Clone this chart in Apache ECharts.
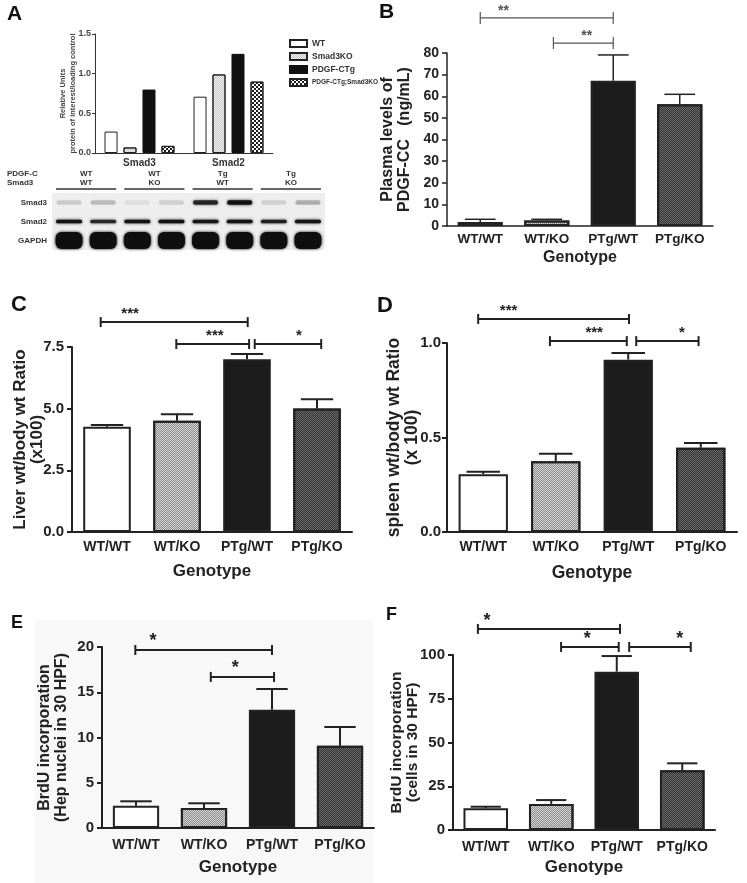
<!DOCTYPE html>
<html><head><meta charset="utf-8">
<script src="https://cdn.jsdelivr.net/npm/echarts@6/dist/echarts.min.js"></script>
<style>html,body{margin:0;padding:0;background:#fff}#c{width:747px;height:883px}</style>
</head><body><div id="c"></div>
<script>
// ================= DATA =================
const genotypes = ['WT/WT', 'WT/KO', 'PTg/WT', 'PTg/KO'];

// Panel A – densitometry
const aCategories = ['Smad3', 'Smad2'];
const aGroupNames = ['WT', 'Smad3KO', 'PDGF-CTg', 'PDGF-CTg;Smad3KO'];
const aWT = [0.27, 0.71];
const aSmad3KO = [0.07, 0.99];
const aPDGFCTg = [0.80, 1.25];
const aPDGFCTgSmad3KO = [0.09, 0.90];
const aTicks = [0, 0.5, 1.0, 1.5];

// Panel A – western blot (relative band intensity per lane)
const blotLanes = ['1', '2', '3', '4', '5', '6', '7', '8'];
const blotRows = ['Smad3', 'Smad2', 'GAPDH'];
const blotGroupPDGFC = ['WT', 'WT', 'Tg', 'Tg'];
const blotGroupSmad3 = ['WT', 'KO', 'WT', 'KO'];
const blotSmad3 = [0.14, 0.2, 0.07, 0.12, 0.8, 0.95, 0.12, 0.25];
const blotSmad2 = [0.95, 0.8, 0.95, 0.95, 0.92, 0.95, 0.85, 0.95];
const blotGAPDH = [1, 1, 1, 1, 1, 1, 1, 1];

// Panel B – plasma PDGF-CC (ng/mL)
const bMean = [1.9, 2.5, 67.2, 56.3];
const bSem = [1.2, 0.6, 11.9, 4.6];
const bTicks = [0, 10, 20, 30, 40, 50, 60, 70, 80];
const bBrackets = [[0, 2.0, 96.2, 0.35], [1.1, 2.0, 84.6, 1.6]];
const bStars = ['**', '**'];

// Panel C – liver wt / body wt (x100)
const cMean = [4.27, 4.51, 7.0, 5.01];
const cSem = [0.07, 0.26, 0.22, 0.37];
const cTicks = [0, 2.5, 5.0, 7.5];
const cBrackets = [[-0.09, 2.01, 8.51, 0.33], [0.99, 2.03, 7.62, 1.54], [2.11, 3.06, 7.62, 2.74]];
const cStars = ['***', '***', '*'];

// Panel D – spleen wt / body wt (x 100)
const dMean = [0.305, 0.374, 0.912, 0.446];
const dSem = [0.014, 0.04, 0.035, 0.025];
const dTicks = [0, 0.5, 1.0];
const dBrackets = [[-0.07, 2.01, 1.127, 0.35], [0.92, 1.98, 1.01, 1.53], [2.11, 2.97, 1.01, 2.74]];
const dStars = ['***', '***', '*'];

// Panel E – BrdU (Hep nuclei in 30 HPF)
const eMean = [2.47, 2.21, 13.07, 9.1];
const eSem = [0.48, 0.52, 2.29, 2.06];
const eTicks = [0, 5, 10, 15, 20];
const eBrackets = [[-0.01, 2.0, 19.67, 0.25], [1.1, 2.03, 16.69, 1.46]];
const eStars = ['*', '*'];

// Panel F – BrdU (cells in 30 HPF)
const fMean = [12.4, 14.9, 90.5, 34.1];
const fSem = [0.9, 2.2, 8.9, 4.0];
const fTicks = [0, 25, 50, 75, 100];
const fBrackets = [[-0.12, 2.05, 114.9, 0.02], [1.15, 2.03, 104.6, 1.55], [2.19, 3.13, 104.6, 2.96]];
const fStars = ['*', '*', '*'];

// ================= STYLE =================
const FONT = '"Liberation Sans", Arial, Helvetica, sans-serif';
const INK = '#222';
function checker(color, s) {
  return { symbol: 'rect', symbolSize: 1, dashArrayX: [[s, s], [0, s, s, 0]], dashArrayY: [s, 0], color: color };
}
const genoStyles = [
  { color: '#ffffff', borderColor: INK, borderWidth: 2 },
  { color: '#d6d6d6', borderColor: INK, borderWidth: 2, decal: checker('rgba(0,0,0,0.35)', 1) },
  { color: '#1c1c1c', borderColor: INK, borderWidth: 2 },
  { color: '#6e6e6e', borderColor: INK, borderWidth: 2, decal: checker('rgba(0,0,0,0.55)', 1) }
];
const aStyles = [
  { color: '#ffffff', borderColor: '#222', borderWidth: 1 },
  { color: '#f2f2f2', borderColor: '#222', borderWidth: 1, decal: checker('rgba(0,0,0,0.18)', 1) },
  { color: '#111111', borderColor: '#111', borderWidth: 1 },
  { color: '#ffffff', borderColor: '#222', borderWidth: 1, decal: checker('#1a1a1a', 2) }
];

const grids = [
  { left: 95, top: 34, width: 178, height: 119 },                     // 0 A chart
  { left: 52, top: 193, width: 273, height: 57, show: true, backgroundColor: '#eeeeee', borderWidth: 0 }, // 1 blot
  { left: 447, top: 53, width: 266, height: 173 },                    // 2 B
  { left: 72, top: 347, width: 280, height: 185 },                    // 3 C
  { left: 447, top: 343, width: 290, height: 189 },                   // 4 D
  { left: 102, top: 647, width: 272, height: 181 },                   // 5 E
  { left: 453, top: 655, width: 262, height: 175 }                    // 6 F
];

function mainX(g, opt) {
  return {
    type: 'category', gridIndex: g, data: genotypes,
    name: 'Genotype', nameLocation: 'middle', nameGap: opt.nameGap, nameMoveOverlap: false,
    nameTextStyle: { fontSize: opt.nameSize || 17, fontWeight: 'bold', color: INK, fontFamily: FONT },
    axisLine: { lineStyle: { color: INK, width: opt.lw || 2 } },
    axisTick: { alignWithLabel: true, interval: 0, length: 5, lineStyle: { color: INK, width: opt.lw || 2 } },
    axisLabel: { interval: 0, hideOverlap: false, fontSize: opt.labelSize || 14, fontWeight: 'bold', color: INK, margin: opt.margin, fontFamily: FONT }
  };
}
function mainY(g, ticks, opt) {
  return {
    type: 'value', gridIndex: g, min: ticks[0], max: ticks[ticks.length - 1], interval: ticks[1] - ticks[0],
    name: opt.name, nameLocation: 'middle', nameRotate: 90, nameGap: opt.nameGap, nameMoveOverlap: false,
    nameTextStyle: { fontSize: opt.nameSize, fontWeight: 'bold', color: INK, lineHeight: opt.lh, fontFamily: FONT, align: 'center' },
    axisLine: { show: true, lineStyle: { color: INK, width: opt.lw || 2 } },
    axisTick: { show: true, length: 5, lineStyle: { color: INK, width: opt.lw || 2 } },
    axisLabel: { fontSize: opt.labelSize || 15, fontWeight: 'bold', color: INK, margin: opt.margin || 8, fontFamily: FONT,
      formatter: opt.fmt || (v => String(v)) },
    splitLine: { show: false }
  };
}

function barSeries(g, means) {
  return {
    type: 'bar', xAxisIndex: g, yAxisIndex: g, barWidth: '68%', z: 2,
    data: means.map((m, i) => ({ value: m, itemStyle: genoStyles[i] }))
  };
}
function errSeries(g, means, sems, lw) {
  return {
    type: 'custom', xAxisIndex: g, yAxisIndex: g, z: 4, clip: false, silent: true,
    data: means.map((m, i) => [i, m, m + sems[i]]),
    encode: { x: 0, y: [1, 2] },
    renderItem: (params, api) => {
      const i = api.value(0);
      const lo = api.coord([i, api.value(1)]);
      const hi = api.coord([i, api.value(2)]);
      const band = api.size([1, 0])[0];
      const hw = band * 0.68 * 0.34;
      const st = { stroke: INK, lineWidth: lw };
      return { type: 'group', children: [
        { type: 'line', shape: { x1: lo[0], y1: lo[1], x2: hi[0], y2: hi[1] }, style: st },
        { type: 'line', shape: { x1: hi[0] - hw, y1: hi[1], x2: hi[0] + hw, y2: hi[1] }, style: st }
      ] };
    }
  };
}
function bracketSeries(g, brackets, stars, opt) {
  return {
    type: 'custom', xAxisIndex: g, yAxisIndex: g, z: 5, clip: false, silent: true,
    data: brackets.map(b => b.slice()),
    encode: { x: 0, y: 2 },
    renderItem: (params, api) => {
      const base = api.coord([0, api.value(2)]);
      const band = api.size([1, 0])[0];
      const x1 = base[0] + api.value(0) * band;
      const x2 = base[0] + api.value(1) * band;
      const lx = base[0] + api.value(3) * band;
      const y = base[1];
      const st = { stroke: opt.color, lineWidth: opt.lw };
      return { type: 'group', children: [
        { type: 'line', shape: { x1: x1, y1: y, x2: x2, y2: y }, style: st },
        { type: 'line', shape: { x1: x1, y1: y - opt.cap, x2: x1, y2: y + opt.cap }, style: st },
        { type: 'line', shape: { x1: x2, y1: y - opt.cap, x2: x2, y2: y + opt.cap }, style: st },
        { type: 'text', x: lx, y: y - opt.dy, style: { text: stars[params.dataIndex], fill: opt.color,
          fontSize: opt.fs, fontWeight: 'bold', fontFamily: FONT, align: 'center', verticalAlign: 'middle' } }
      ] };
    }
  };
}

const fmt1 = v => v.toFixed(1);

const xAxes = [
  { type: 'category', gridIndex: 0, data: aCategories,
    axisLine: { lineStyle: { color: '#333', width: 1 } }, axisTick: { show: false },
    axisLabel: { fontSize: 10, fontWeight: 'bold', color: '#333', margin: 5, fontFamily: FONT } },
  { type: 'category', gridIndex: 1, data: blotLanes, show: false },
  mainX(2, { nameGap: 24, margin: 6, labelSize: 13.5, nameSize: 16, lw: 1.5 }),
  mainX(3, { nameGap: 31, margin: 8 }),
  mainX(4, { nameGap: 32, margin: 8, nameSize: 17.5 }),
  mainX(5, { nameGap: 31, margin: 10 }),
  mainX(6, { nameGap: 29, margin: 10 })
];
const yAxes = [
  { type: 'value', gridIndex: 0, min: aTicks[0], max: aTicks[aTicks.length - 1], interval: aTicks[1] - aTicks[0],
    name: 'Relative Units\nprotein of interest/loading control', nameLocation: 'middle', nameRotate: 90, nameGap: 17,
    nameMoveOverlap: false,
    nameTextStyle: { fontSize: 7.5, fontWeight: 'bold', color: '#444', lineHeight: 10, fontFamily: FONT },
    axisLine: { show: true, lineStyle: { color: '#333', width: 1 } },
    axisTick: { show: true, length: 3, lineStyle: { color: '#333', width: 1 } },
    axisLabel: { fontSize: 9, fontWeight: 'bold', color: '#444', margin: 4, fontFamily: FONT, formatter: fmt1 },
    splitLine: { show: false } },
  { type: 'category', gridIndex: 1, data: blotRows, inverse: true,
    axisLine: { show: false }, axisTick: { show: false },
    axisLabel: { fontSize: 8, fontWeight: 'bold', color: '#333', margin: 5, fontFamily: FONT } },
  mainY(2, bTicks, { name: 'Plasma levels of\nPDGF-CC   (ng/mL)', nameGap: 34, nameSize: 16, lh: 17, labelSize: 14, lw: 1.5 }),
  mainY(3, cTicks, { name: 'Liver wt/body wt Ratio\n(x100)', nameGap: 26, nameSize: 17, lh: 17, fmt: fmt1 }),
  mainY(4, dTicks, { name: 'spleen wt/body wt Ratio\n(x 100)', nameGap: 26, nameSize: 17.5, lh: 18, fmt: fmt1, margin: 6 }),
  mainY(5, eTicks, { name: 'BrdU incorporation\n(Hep nuclei in 30 HPF)', nameGap: 32, nameSize: 16, lh: 17 }),
  mainY(6, fTicks, { name: 'BrdU incorporation\n(cells in 30 HPF)', nameGap: 32, nameSize: 15.5, lh: 16 })
];

const aValues = [aWT, aSmad3KO, aPDGFCTg, aPDGFCTgSmad3KO];
const series = [];
aValues.forEach((vals, k) => {
  series.push({ type: 'bar', name: aGroupNames[k], xAxisIndex: 0, yAxisIndex: 0, barWidth: 13, barGap: '46%',
    itemStyle: aStyles[k], data: vals });
});
// western blot bands
const blotData = [];
[blotSmad3, blotSmad2, blotGAPDH].forEach((arr, r) => arr.forEach((v, l) => blotData.push([l, r, v])));
const bandSize = [[25, 4.5, 2], [26, 3.5, 1.5], [27, 17, 6]];
series.push({
  type: 'custom', xAxisIndex: 1, yAxisIndex: 1, clip: false, silent: true, data: blotData,
  encode: { x: 0, y: 1 },
  renderItem: (params, api) => {
    const c = api.coord([api.value(0), api.value(1)]);
    const s = bandSize[api.value(1)];
    const col = 'rgba(15,15,15,' + api.value(2) + ')';
    return { type: 'rect', shape: { x: c[0] - s[0] / 2, y: c[1] - s[1] / 2, width: s[0], height: s[1], r: s[2] },
      style: { fill: col, shadowBlur: 3, shadowColor: col } };
  }
});

series.push(barSeries(2, bMean), errSeries(2, bMean, bSem, 1.5),
  bracketSeries(2, bBrackets, bStars, { color: '#555', lw: 1.2, cap: 6, dy: 7, fs: 14 }));
series.push(barSeries(3, cMean), errSeries(3, cMean, cSem, 2),
  bracketSeries(3, cBrackets, cStars, { color: INK, lw: 2, cap: 5, dy: 8, fs: 15 }));
series.push(barSeries(4, dMean), errSeries(4, dMean, dSem, 2),
  bracketSeries(4, dBrackets, dStars, { color: INK, lw: 2, cap: 5, dy: 8, fs: 15 }));
series.push(barSeries(5, eMean), errSeries(5, eMean, eSem, 2),
  bracketSeries(5, eBrackets, eStars, { color: INK, lw: 2, cap: 5, dy: 9, fs: 18 }));
series.push(barSeries(6, fMean), errSeries(6, fMean, fSem, 2),
  bracketSeries(6, fBrackets, fStars, { color: INK, lw: 2, cap: 5, dy: 8, fs: 18 }));

const panelLetter = (t, x, y, fs) => ({ type: 'text', x: x, y: y,
  style: { text: t, fontSize: fs, fontWeight: 'bold', fill: '#111', fontFamily: FONT } });

const baseGraphic = [
  { type: 'rect', z: -10, shape: { x: 35, y: 620, width: 338, height: 263 }, style: { fill: '#f8f8f8' } },
  panelLetter('A', 7, 4, 21),
  panelLetter('B', 379, 2, 21),
  panelLetter('C', 11, 294, 22),
  panelLetter('D', 377, 295, 22),
  panelLetter('E', 11, 614, 18),
  panelLetter('F', 386, 606, 18)
];

const chart = echarts.init(document.getElementById('c'), null, { renderer: 'canvas' });
chart.setOption({
  animation: false,
  backgroundColor: '#ffffff',
  textStyle: { fontFamily: FONT },
  grid: grids,
  xAxis: xAxes,
  yAxis: yAxes,
  legend: {
    left: 284, top: 34, orient: 'vertical', itemWidth: 17, itemHeight: 7, itemGap: 4, selectedMode: false,
    icon: 'rect',
    textStyle: { fontSize: 8.5, fontWeight: 'bold', color: '#333', fontFamily: FONT },
    data: aGroupNames.map((n, i) => i === 3 ? { name: n, textStyle: { fontSize: 6.5 } } : { name: n })
  },
  series: series,
  graphic: baseGraphic
});

// blot group headers positioned from the blot grid's lane scale
const hdrStyle = { fontSize: 8, fontWeight: 'bold', fill: '#333', fontFamily: FONT, verticalAlign: 'middle' };
const hdr = [
  { type: 'text', x: 7, y: 174, style: Object.assign({ text: 'PDGF-C' }, hdrStyle) },
  { type: 'text', x: 7, y: 183, style: Object.assign({ text: 'Smad3' }, hdrStyle) }
];
blotGroupPDGFC.forEach((g, k) => {
  const p1 = chart.convertToPixel({ gridIndex: 1 }, [2 * k, 0]);
  const p2 = chart.convertToPixel({ gridIndex: 1 }, [2 * k + 1, 0]);
  const cx = (p1[0] + p2[0]) / 2;
  const half = (p2[0] - p1[0]) / 2 + 13;
  hdr.push({ type: 'text', x: cx, y: 174, style: Object.assign({ text: g, align: 'center' }, hdrStyle) });
  hdr.push({ type: 'text', x: cx, y: 183, style: Object.assign({ text: blotGroupSmad3[k], align: 'center' }, hdrStyle) });
  hdr.push({ type: 'line', shape: { x1: cx - half, y1: 189, x2: cx + half, y2: 189 }, style: { stroke: '#333', lineWidth: 1.3 } });
});
chart.setOption({ graphic: baseGraphic.concat(hdr) }, { replaceMerge: ['graphic'] });
</script>
</body></html>
